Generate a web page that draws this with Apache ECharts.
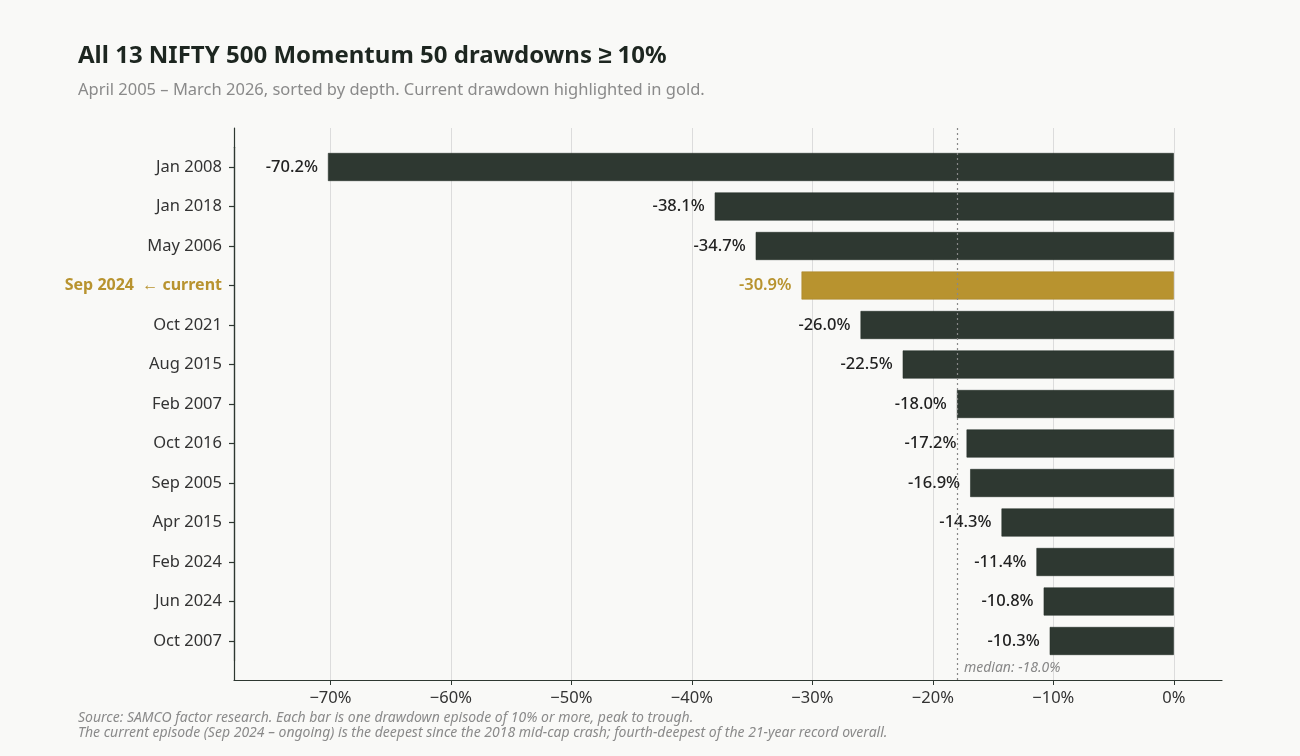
<!DOCTYPE html>
<html>
<head>
<meta charset="utf-8">
<script src="https://cdn.jsdelivr.net/npm/echarts@6/dist/echarts.min.js"></script>
<style>
html,body{margin:0;padding:0;background:#f9f9f7;}
#c{width:1300px;height:756px;}
</style>
</head>
<body>
<div id="c"></div>
<script>
const categories = ['Jan 2008','Jan 2018','May 2006','Sep 2024','Oct 2021','Aug 2015','Feb 2007','Oct 2016','Sep 2005','Apr 2015','Feb 2024','Jun 2024','Oct 2007'];
const drawdowns = [-70.2,-38.1,-34.7,-30.9,-26.0,-22.5,-18.0,-17.2,-16.9,-14.3,-11.4,-10.8,-10.3];
const currentEpisode = 'Sep 2024';
const medianValue = -18.0;
const xTicks = [-70,-60,-50,-40,-30,-20,-10,0];
const xMin = -78, xMax = 4;

const FONT = '"Noto Sans", sans-serif';
const DARK = '#2e3831';
const GOLD = '#b8932f';

const chart = echarts.init(document.getElementById('c'));

const barData = drawdowns.map((v, i) => {
  const cur = categories[i] === currentEpisode;
  return {
    value: v,
    itemStyle: { color: cur ? GOLD : DARK, borderColor: cur ? '#a9852a' : '#27302a', borderWidth: 0.6 },
    label: cur ? { color: GOLD, fontWeight: 600 } : {}
  };
});

const option = {
  backgroundColor: '#f9f9f7',
  animation: false,
  title: [
    { text: 'All 13 NIFTY 500 Momentum 50 drawdowns ≥ 10%', left: 78, top: 44, padding: 0,
      textStyle: { fontFamily: FONT, fontSize: 24, fontWeight: 'bold', color: '#1d2620' } },
    { text: 'April 2005 – March 2026, sorted by depth. Current drawdown highlighted in gold.', left: 78, top: 82, padding: 0,
      textStyle: { fontFamily: FONT, fontSize: 16.5, fontWeight: 'normal', color: '#8a8a8a' } },
    { text: 'Source: SAMCO factor research. Each bar is one drawdown episode of 10% or more, peak to trough.\nThe current episode (Sep 2024 – ongoing) is the deepest since the 2018 mid-cap crash; fourth-deepest of the 21-year record overall.',
      left: 78, top: 710, padding: 0,
      textStyle: { fontFamily: FONT, fontSize: 14, fontStyle: 'italic', fontWeight: 'normal', color: '#8a8a8a', lineHeight: 15.5 } }
  ],
  grid: [
    { left: 234, right: 78, top: 128, bottom: 76 },
    { left: 234, right: 78, top: 147.25, bottom: 95.25 }
  ],
  xAxis: [
    { type: 'value', gridIndex: 0, min: xMin, max: xMax,
      axisLine: { show: true, onZero: false, lineStyle: { color: '#2e3831', width: 1.2 } },
      axisTick: { show: true, length: 5, customValues: xTicks, lineStyle: { color: '#2e3831' } },
      axisLabel: { customValues: xTicks, margin: 10, fontFamily: FONT, fontSize: 16.5, color: '#333',
        formatter: v => (v < 0 ? '\u2212' + Math.abs(v) : v) + '%' },
      splitLine: { show: false } },
    { type: 'value', gridIndex: 1, min: xMin, max: xMax, show: false }
  ],
  yAxis: [
    { type: 'value', gridIndex: 0, min: 0, max: 1,
      axisLine: { show: true, onZero: false, lineStyle: { color: '#2e3831', width: 1.2 } },
      axisTick: { show: false }, axisLabel: { show: false }, splitLine: { show: false } },
    { type: 'category', gridIndex: 1, inverse: true, data: categories,
      axisLine: { show: true, onZero: false, lineStyle: { color: '#2e3831', width: 1.2 } },
      axisTick: { show: true, alignWithLabel: true, length: 5, lineStyle: { color: '#2e3831', width: 1.2 } },
      axisLabel: { margin: 12, fontFamily: FONT, fontSize: 16.5, color: '#333',
        formatter: v => v === currentEpisode ? '{cur|' + v + '  ← current}' : v,
        rich: { cur: { fontFamily: FONT, fontSize: 16, fontWeight: 'bold', color: GOLD } } },
      splitLine: { show: false } }
  ],
  series: [
    { type: 'scatter', xAxisIndex: 0, yAxisIndex: 0, data: [], z: 0, silent: true,
      markLine: { silent: true, z: 0, symbol: 'none', label: { show: false },
        lineStyle: { color: '#dcdcdc', type: 'solid', width: 1 },
        data: xTicks.map(t => ({ xAxis: t })) } },
    { type: 'bar', xAxisIndex: 1, yAxisIndex: 1, data: barData, barWidth: 28, z: 2,
      label: { show: true, position: 'left', distance: 10, fontFamily: FONT, fontSize: 16.5, fontWeight: 500, color: '#222',
        formatter: p => p.value.toFixed(1) + '%' } },
    { type: 'scatter', xAxisIndex: 0, yAxisIndex: 0, data: [], z: 5, silent: true,
      markLine: { silent: true, z: 10, symbol: 'none', label: { show: false },
        lineStyle: { color: '#888', type: [2, 3], width: 1.2 },
        data: [{ xAxis: medianValue }] } }
  ]
};
chart.setOption(option);

const mx = chart.convertToPixel({ xAxisIndex: 0 }, medianValue);
const my = chart.convertToPixel({ yAxisIndex: 0 }, 0);
chart.setOption({
  graphic: [{ type: 'text', left: mx + 7, top: my - 19,
    style: { text: 'median: ' + medianValue.toFixed(1) + '%', fontFamily: FONT, fontSize: 14, fontStyle: 'italic', fill: '#888' } }]
});
</script>
</body>
</html>
